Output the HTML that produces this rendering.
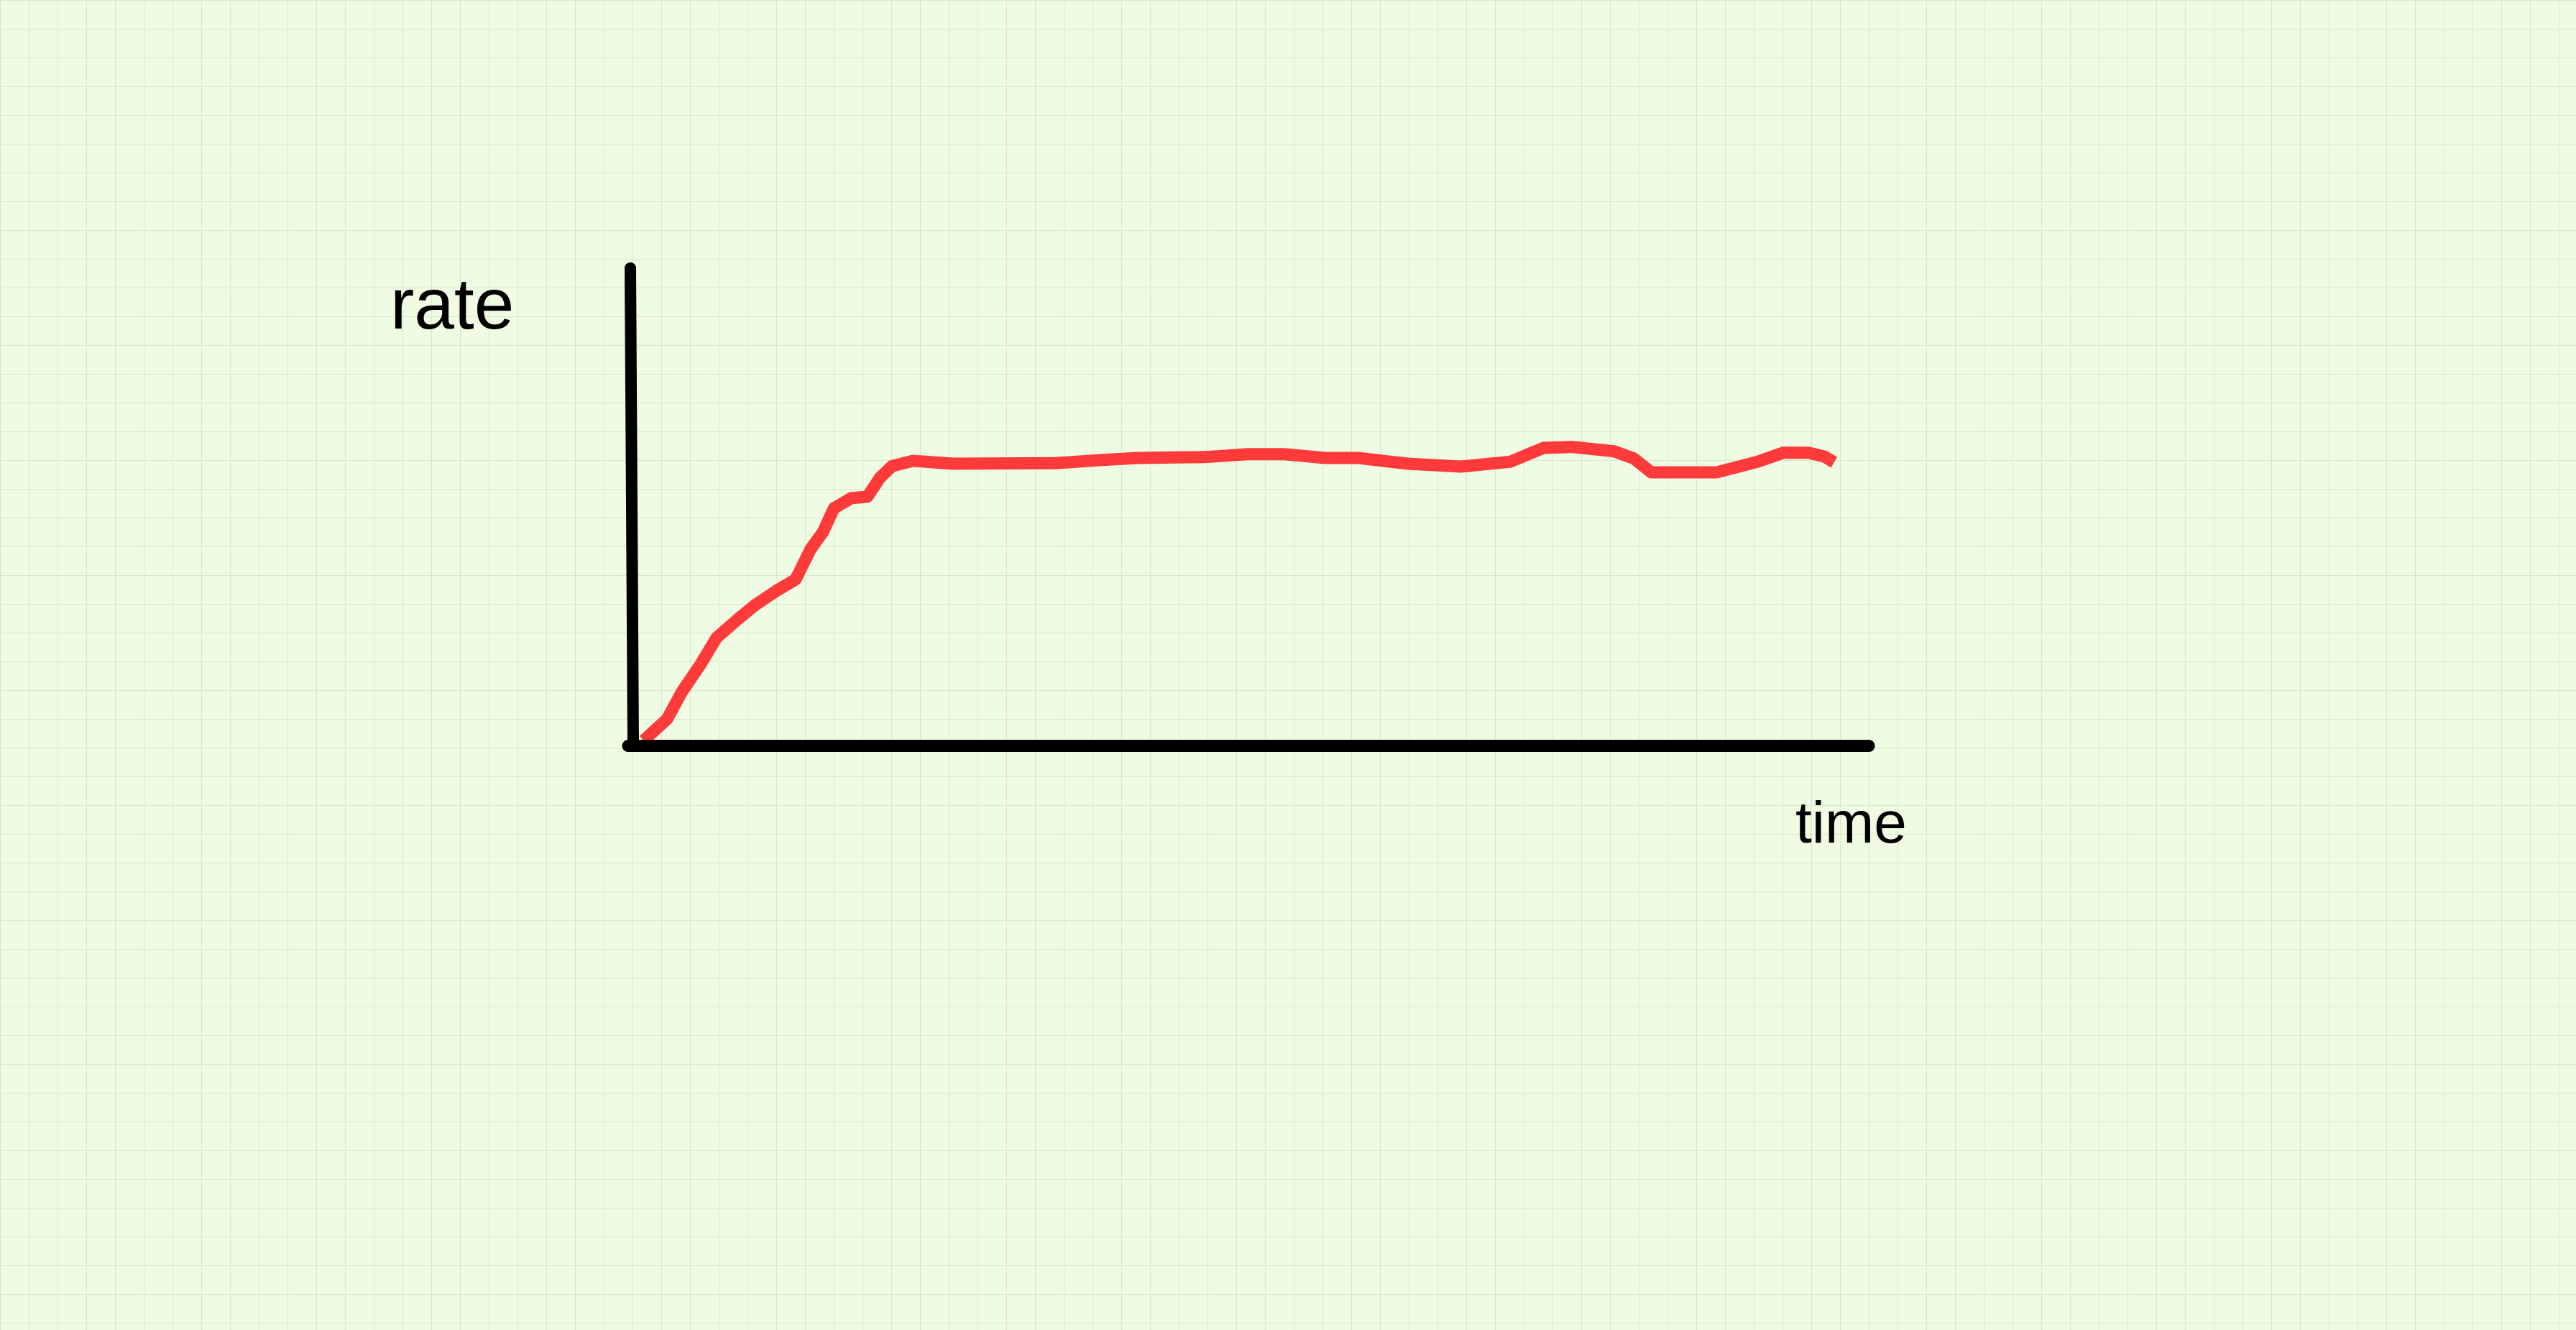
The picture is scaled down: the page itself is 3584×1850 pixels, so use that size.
<!DOCTYPE html>
<html>
<head>
<meta charset="utf-8">
<style>
  html, body { margin: 0; padding: 0; }
  body {
    width: 3584px; height: 1850px; overflow: hidden;
    background-color: #effce3;
    background-image:
      linear-gradient(to right, #d2ecca 0, #d2ecca 1.2px, transparent 1.2px),
      linear-gradient(to bottom, #d2ecca 0, #d2ecca 1.2px, transparent 1.2px);
    background-size: 40px 40px;
  }
  svg { position: absolute; left: 0; top: 0; }
  text { font-family: "Liberation Sans", "DejaVu Sans", sans-serif; fill: #000; }
</style>
</head>
<body>
<svg id="chart" width="3584" height="1850" viewBox="0 0 3584 1850">
  <text x="543" y="457" font-size="100">rate</text>
  <text x="2498" y="1172" font-size="82">time</text>
  <g id="series"></g>
  <line x1="877" y1="373" x2="881" y2="1037" stroke="#000" stroke-width="16" stroke-linecap="round"/>
  <line x1="874" y1="1037.5" x2="2600" y2="1037.5" stroke="#000" stroke-width="17" stroke-linecap="round"/>
  <rect x="873" y="1029" width="16" height="17" fill="#000"/>
</svg>
<script>
const time = [0.9, 2.8, 4.0, 5.5, 6.8, 8.4, 9.9, 11.7, 13.2, 14.4, 15.4, 16.3, 17.7, 19.0, 20.0, 21.0, 22.7, 25.9, 34.2, 37.5, 40.9, 46.4, 49.8, 52.7, 56.0, 58.7, 62.7, 67.0, 71.0, 73.7, 76.0, 79.4, 81.0, 82.4, 87.7, 91.0, 93.1, 95.1, 96.4, 97.2];
const rate = [1.2, 5.7, 11.4, 17.1, 22.7, 26.3, 29.5, 32.6, 34.9, 41.2, 44.8, 49.8, 51.9, 52.2, 56.1, 58.6, 59.7, 59.1, 59.2, 59.8, 60.3, 60.5, 61.1, 61.1, 60.3, 60.3, 59.1, 58.5, 59.5, 62.4, 62.6, 61.7, 60.2, 57.3, 57.3, 59.5, 61.4, 61.4, 60.6, 59.4];

function xScale(t) { return 880 + t * 17.2; }
function yScale(r) { return 1038 - r * 6.65; }

const ns = 'http://www.w3.org/2000/svg';
const g = document.getElementById('series');
const pts = time.map((t, i) => xScale(t).toFixed(1) + ',' + yScale(rate[i]).toFixed(1)).join(' ');
const line = document.createElementNS(ns, 'polyline');
line.setAttribute('points', pts);
line.setAttribute('fill', 'none');
line.setAttribute('stroke', '#ff3a3a');
line.setAttribute('stroke-width', '17');
line.setAttribute('stroke-linejoin', 'round');
line.setAttribute('stroke-linecap', 'butt');


g.appendChild(line);
</script>
</body>
</html>
